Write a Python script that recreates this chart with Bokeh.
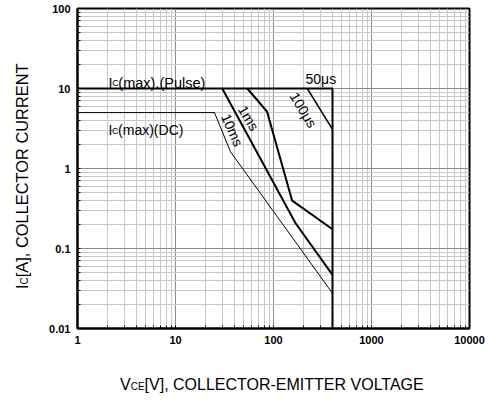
import math
from bokeh.plotting import figure
from bokeh.models import Label, FixedTicker, CustomJSTickFormatter, Range1d, Div
from bokeh.layouts import row, column
from bokeh.embed import file_html
from bokeh.resources import INLINE

# ---- data ----
x_ticks = [1, 10, 100, 1000, 10000]
x_tick_labels = ["1", "10", "100", "1000", "10000"]
y_ticks = [0.01, 0.1, 1, 10, 100]
y_tick_labels = ["0.01", "0.1", "1", "10", "100"]

pulse_v = [1, 400, 400]
pulse_i = [10, 10, 0.01]
dc_v = [1, 25, 36.4, 400]
dc_i = [5, 5, 1.62, 0.0275]
ms10_v = [30, 168, 400]
ms10_i = [10, 0.207, 0.0467]
ms1_v = [54, 86, 155, 400]
ms1_i = [10, 5.13, 0.396, 0.174]
us100_v = [221, 400]
us100_i = [10, 3.09]

FONT = "Liberation Sans"
YDIV_W = 34

fig = figure(width=454, height=356, x_axis_type="log", y_axis_type="log",
             x_range=Range1d(1, 10000), y_range=Range1d(0.01, 100),
             output_backend="svg", toolbar_location=None,
             min_border_left=77 - YDIV_W, min_border_right=19, min_border_top=8, min_border_bottom=28)
fig.background_fill_color = "white"
fig.border_fill_color = "white"
fig.outline_line_color = "black"
fig.outline_line_width = 2

def minors(ticks):
    return [t * k for t in ticks[:-1] for k in range(2, 10)]

fmt_code = """
for (let i = 0; i < tvals.length; i++) {
  if (Math.abs(Math.log10(tick) - Math.log10(tvals[i])) < 1e-6) return tlabels[i];
}
return '';
"""
xt = FixedTicker(ticks=x_ticks, minor_ticks=minors(x_ticks))
yt = FixedTicker(ticks=y_ticks, minor_ticks=minors(y_ticks))
fig.xaxis.ticker = xt
fig.yaxis.ticker = yt
fig.xgrid.ticker = xt
fig.ygrid.ticker = yt
fig.xaxis.formatter = CustomJSTickFormatter(args=dict(tvals=x_ticks, tlabels=x_tick_labels), code=fmt_code)
fig.yaxis.formatter = CustomJSTickFormatter(args=dict(tvals=y_ticks, tlabels=y_tick_labels), code=fmt_code)

for ax in (fig.xaxis, fig.yaxis):
    ax.axis_line_color = "black"
    ax.axis_line_width = 2
    ax.major_tick_in = 3
    ax.major_tick_out = 0
    ax.minor_tick_in = 3
    ax.minor_tick_out = 0
    ax.major_tick_line_color = "black"
    ax.minor_tick_line_color = "black"
    ax.major_label_text_font = FONT
    ax.major_label_text_font_style = "bold"
    ax.major_label_text_font_size = "11px"
    ax.major_label_text_color = "black"
    ax.major_label_standoff = 7

fig.grid.grid_line_color = "#8c8c8c"
fig.grid.grid_line_width = 1
fig.grid.minor_grid_line_color = "#c8c8c8"
fig.grid.minor_grid_line_width = 1

fig.line(dc_v, dc_i, line_color="black", line_width=1)
fig.line(ms10_v, ms10_i, line_color="black", line_width=2)
fig.line(ms1_v, ms1_i, line_color="black", line_width=2)
fig.line(us100_v, us100_i, line_color="black", line_width=1.5)
fig.line(pulse_v, pulse_i, line_color="black", line_width=2)

# position helper (reference pixel -> data), for text placement only
def ref_xy(X, Y):
    return 10 ** ((X - 77) / 98.0), 10 ** (2 - (Y - 8.5) / 80.0)

def lab(xy, text, size, xo=0, yo=0, angle=0.0, align="left", baseline="alphabetic"):
    fig.add_layout(Label(x=xy[0], y=xy[1], text=text, x_offset=xo, y_offset=yo,
                         angle=angle, text_align=align, text_baseline=baseline,
                         text_font=FONT, text_font_size=f"{size}px", text_color="black"))

# in-plot labels
a = ref_xy(108, 82.7)
lab(a, "I", 14.5)
lab(a, "C", 9, xo=3.8, yo=-0.5)
lab(a, "(max).(Pulse)", 14.5, xo=9.8)
b = ref_xy(108, 130)
lab(b, "I", 14)
lab(b, "C", 9, xo=3.6, yo=-0.5)
lab(b, "(max)(DC)", 14, xo=9.6)
lab(ref_xy(305, 79.3), "50μs", 14)
lab(ref_xy(303, 110), "100μs", 14, angle=-math.radians(59), align="center", baseline="middle")
lab(ref_xy(248, 118), "1ms", 14, angle=-math.radians(59), align="center", baseline="middle")
lab(ref_xy(231.7, 130), "10ms", 14, angle=-math.radians(66), align="center", baseline="middle")

# axis titles as HTML (real text with subscripts)
def txt_style(size):
    return ("position:absolute;white-space:nowrap;font-family:'Liberation Sans';"
            "font-size:%spx;line-height:16px;color:black;" % size)
sub = "<span style=\"font-size:10px;\">{}</span>"

ydiv = Div(width=YDIV_W, height=356, margin=0,
           text=("<div style=\"position:relative;width:%dpx;height:356px;\">"
                 "<div style=\"%s left:13.5px;top:289px;transform:rotate(-90deg);transform-origin:left top;\">"
                 "I%s[A], COLLECTOR CURRENT</div></div>") % (YDIV_W, txt_style(16.4), sub.format("C")))
xdiv = Div(width=454, height=40, margin=0,
           text=("<div style=\"position:relative;width:454px;height:40px;\">"
                 "<div style=\"%s left:%dpx;top:21px;\">"
                 "V%s[V], COLLECTOR-EMITTER VOLTAGE</div></div>") % (txt_style(16), 120 - YDIV_W, sub.format("CE")))

p = row(ydiv, column(fig, xdiv, spacing=0), spacing=0)

open("out.html", "w").write(file_html(p, INLINE))
